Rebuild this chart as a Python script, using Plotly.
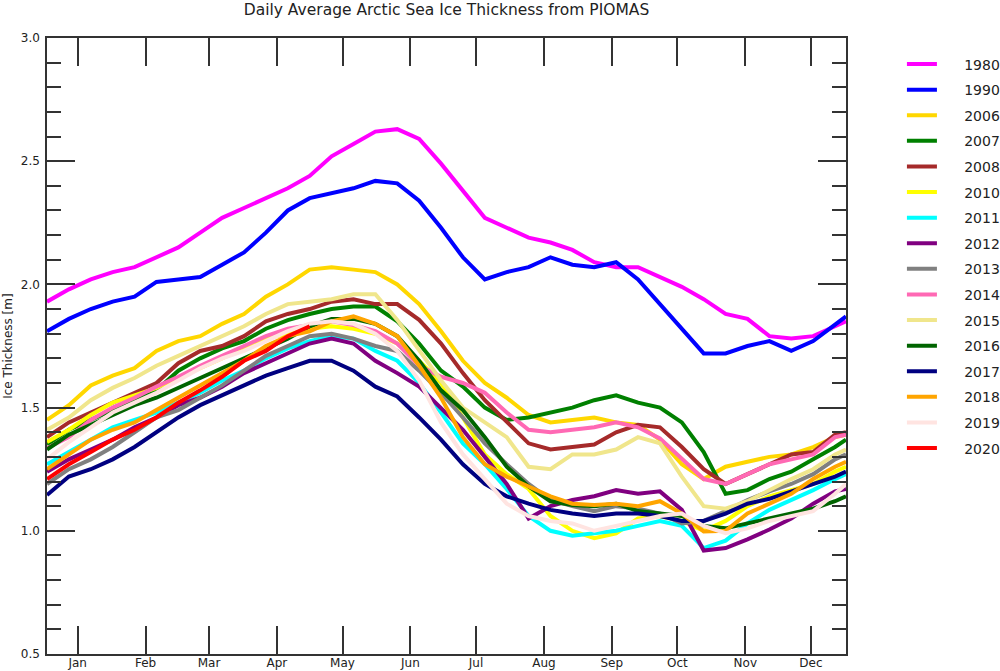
import plotly.graph_objects as go

days = [1, 11, 21, 31, 41, 51, 61, 71, 81, 91, 101, 111, 121, 131, 141, 151, 161, 171, 181,
        191, 201, 211, 221, 231, 241, 251, 261, 271, 281, 291, 301, 311, 321, 331, 341, 351, 361, 366]

y1980 = [1.93, 1.98, 2.02, 2.05, 2.07, 2.11, 2.15, 2.21, 2.27, 2.31, 2.35, 2.39, 2.44, 2.52, 2.57, 2.62, 2.63, 2.59, 2.49,
         2.38, 2.27, 2.23, 2.19, 2.17, 2.14, 2.09, 2.07, 2.07, 2.03, 1.99, 1.94, 1.88, 1.86, 1.79, 1.78, 1.79, 1.83, 1.85]
y1990 = [1.81, 1.86, 1.90, 1.93, 1.95, 2.01, 2.02, 2.03, 2.08, 2.13, 2.21, 2.30, 2.35, 2.37, 2.39, 2.42, 2.41, 2.34, 2.23,
         2.11, 2.02, 2.05, 2.07, 2.11, 2.08, 2.07, 2.09, 2.02, 1.92, 1.82, 1.72, 1.72, 1.75, 1.77, 1.73, 1.77, 1.84, 1.87]
y2006 = [1.45, 1.51, 1.59, 1.63, 1.66, 1.73, 1.77, 1.79, 1.84, 1.88, 1.95, 2.00, 2.06, 2.07, 2.06, 2.05, 2.00, 1.92, 1.81,
         1.69, 1.60, 1.54, 1.47, 1.44, 1.45, 1.46, 1.44, 1.43, 1.37, 1.27, 1.21, 1.26, 1.28, 1.30, 1.31, 1.34, 1.38, 1.39]
y2007 = [1.35, 1.41, 1.45, 1.49, 1.53, 1.57, 1.65, 1.70, 1.74, 1.77, 1.82, 1.855, 1.88, 1.90, 1.91, 1.91, 1.85, 1.76, 1.65,
         1.585, 1.50, 1.45, 1.46, 1.48, 1.50, 1.53, 1.55, 1.52, 1.50, 1.44, 1.32, 1.15, 1.165, 1.21, 1.24, 1.29, 1.34, 1.37]
y2008 = [1.38, 1.44, 1.48, 1.52, 1.56, 1.60, 1.68, 1.73, 1.75, 1.79, 1.85, 1.88, 1.90, 1.93, 1.94, 1.92, 1.92, 1.856, 1.76,
         1.64, 1.53, 1.44, 1.355, 1.33, 1.34, 1.35, 1.40, 1.43, 1.42, 1.34, 1.25, 1.19, 1.23, 1.27, 1.31, 1.32, 1.39, 1.40]
y2010 = [1.36, 1.41, 1.47, 1.52, 1.55, 1.58, 1.62, 1.66, 1.70, 1.74, 1.78, 1.80, 1.82, 1.83, 1.82, 1.80, 1.76, 1.69, 1.60,
         1.46, 1.31, 1.23, 1.17, 1.06, 1.00, 0.97, 0.99, 1.05, 1.06, 1.04, 1.00, 1.04, 1.10, 1.14, 1.165, 1.19, 1.24, 1.26]
y2011 = [1.27, 1.32, 1.37, 1.42, 1.45, 1.48, 1.52, 1.56, 1.61, 1.65, 1.70, 1.74, 1.77, 1.79, 1.78, 1.73, 1.69, 1.60, 1.48,
         1.355, 1.27, 1.17, 1.06, 1.00, 0.98, 0.99, 1.00, 1.02, 1.04, 1.02, 0.93, 0.96, 1.03, 1.085, 1.125, 1.165, 1.21, 1.23]
y2012 = [1.24, 1.29, 1.33, 1.37, 1.42, 1.46, 1.51, 1.54, 1.585, 1.64, 1.68, 1.72, 1.76, 1.78, 1.76, 1.69, 1.64, 1.585, 1.50,
         1.41, 1.30, 1.19, 1.05, 1.10, 1.125, 1.14, 1.165, 1.15, 1.16, 1.085, 0.92, 0.93, 0.965, 1.005, 1.05, 1.11, 1.16, 1.17]
y2013 = [1.19, 1.25, 1.29, 1.34, 1.40, 1.46, 1.49, 1.54, 1.59, 1.65, 1.71, 1.75, 1.79, 1.80, 1.78, 1.75, 1.73, 1.65, 1.56,
         1.46, 1.355, 1.27, 1.19, 1.125, 1.10, 1.08, 1.10, 1.09, 1.07, 1.03, 1.04, 1.08, 1.125, 1.16, 1.19, 1.23, 1.29, 1.31]
y2014 = [1.335, 1.38, 1.45, 1.50, 1.54, 1.585, 1.625, 1.67, 1.71, 1.75, 1.79, 1.82, 1.835, 1.85, 1.835, 1.81, 1.76, 1.67, 1.625,
         1.60, 1.56, 1.48, 1.41, 1.40, 1.41, 1.42, 1.44, 1.42, 1.375, 1.29, 1.21, 1.19, 1.23, 1.27, 1.29, 1.31, 1.38, 1.39]
y2015 = [1.41, 1.46, 1.53, 1.58, 1.62, 1.67, 1.71, 1.75, 1.79, 1.83, 1.88, 1.92, 1.93, 1.94, 1.96, 1.96, 1.856, 1.73, 1.61,
         1.50, 1.44, 1.38, 1.26, 1.25, 1.31, 1.31, 1.33, 1.38, 1.355, 1.22, 1.10, 1.09, 1.12, 1.165, 1.21, 1.25, 1.31, 1.33]
y2016 = [1.33, 1.39, 1.43, 1.47, 1.51, 1.54, 1.58, 1.62, 1.66, 1.70, 1.74, 1.78, 1.83, 1.86, 1.86, 1.84, 1.79, 1.69, 1.57,
         1.49, 1.38, 1.26, 1.18, 1.12, 1.105, 1.10, 1.11, 1.08, 1.07, 1.06, 1.02, 1.01, 1.03, 1.05, 1.07, 1.09, 1.12, 1.14]
y2017 = [1.145, 1.22, 1.25, 1.29, 1.34, 1.40, 1.46, 1.51, 1.55, 1.59, 1.63, 1.66, 1.69, 1.69, 1.65, 1.585, 1.545, 1.46, 1.37,
         1.27, 1.19, 1.14, 1.11, 1.085, 1.07, 1.06, 1.07, 1.07, 1.06, 1.04, 1.04, 1.07, 1.11, 1.13, 1.16, 1.19, 1.22, 1.24]
y2018 = [1.25, 1.31, 1.37, 1.41, 1.44, 1.49, 1.54, 1.59, 1.64, 1.69, 1.75, 1.79, 1.81, 1.85, 1.87, 1.84, 1.79, 1.67, 1.54,
         1.38, 1.27, 1.22, 1.18, 1.14, 1.11, 1.105, 1.11, 1.10, 1.12, 1.07, 0.997, 1.00, 1.07, 1.11, 1.15, 1.21, 1.26, 1.28]
y2019 = [1.29, 1.36, 1.42, 1.48, 1.52, 1.56, 1.61, 1.66, 1.70, 1.73, 1.77, 1.81, 1.84, 1.85, 1.84, 1.80, 1.73, 1.61, 1.44,
         1.31, 1.21, 1.11, 1.06, 1.04, 1.03, 1.00, 1.02, 1.04, 1.06, 1.07, 1.02, 0.99, 1.01, 1.04, 1.06, 1.08, 1.15, 1.19]
y2020 = [1.21, 1.27, 1.32, 1.37, 1.41, 1.46, 1.52, 1.57, 1.625, 1.69, 1.73, 1.79, 1.83]

years = ["1980", "1990", "2006", "2007", "2008", "2010", "2011", "2012",
         "2013", "2014", "2015", "2016", "2017", "2018", "2019", "2020"]
series = [y1980, y1990, y2006, y2007, y2008, y2010, y2011, y2012,
          y2013, y2014, y2015, y2016, y2017, y2018, y2019, y2020]
colors = ["#FF00FF", "#0000FF", "#FFD700", "#008000", "#A52A2A", "#FFFF00", "#00FFFF", "#800080",
          "#808080", "#FF69B4", "#F0E68C", "#006400", "#000080", "#FFA500", "#FFE4E1", "#FF0000"]

month_days = [15, 46, 75, 106, 136, 167, 197, 228, 259, 289, 320, 350]
month_labels = ["Jan", "Feb", "Mar", "Apr", "May", "Jun", "Jul", "Aug", "Sep", "Oct", "Nov", "Dec"]

FONT = "DejaVu Sans"
PAD = "\u00a0" * 5
fig = go.Figure()
for name, vals, col in zip(years, series, colors):
    fig.add_trace(go.Scatter(
        x=days[:len(vals)], y=vals, mode="lines", name=PAD + name, legendgroup=name,
        line=dict(color=col, width=4), hoverinfo="skip"))

axis_col = "#333333"
fig.update_layout(
    width=1000, height=671,
    margin=dict(l=47, r=154, t=38, b=17, autoexpand=False),
    paper_bgcolor="white", plot_bgcolor="white",
    font=dict(family=FONT, size=12, color="#222222"),
    title=dict(text="Daily Average Arctic Sea Ice Thickness from PIOMAS",
               x=0.5, xref="paper", xanchor="center", y=0.994, yref="container", yanchor="top",
               font=dict(family=FONT, size=15.5, color="#222222")),
    showlegend=True,
    legend=dict(x=1.07, y=0.983, xanchor="left", yanchor="top", font=dict(family=FONT, size=14, color="#222222"),
                tracegroupgap=4.4, itemwidth=30, bgcolor="rgba(0,0,0,0)"),
    xaxis=dict(range=[1, 366], tickmode="array", tickvals=month_days, ticktext=month_labels,
               ticks="inside", ticklen=28, tickwidth=1.5, tickcolor=axis_col, automargin=False,
               ticklabelstandoff=-3,
               showline=True, linecolor=axis_col, linewidth=1.5, mirror="ticks",
               showgrid=False, zeroline=False, tickfont=dict(size=12)),
    yaxis=dict(range=[0.5, 3.0], tickmode="array", tickvals=[0.5, 1.0, 1.5, 2.0, 2.5, 3.0],
               ticktext=["0.5", "1.0", "1.5", "2.0", "2.5", "3.0"], automargin=False,
               ticklabelstandoff=3,
               ticks="inside", ticklen=28, tickwidth=1.5, tickcolor=axis_col,
               minor=dict(dtick=0.1, ticks="inside", ticklen=14, tickwidth=1.5, tickcolor=axis_col, showgrid=False),
               showline=True, linecolor=axis_col, linewidth=1.5, mirror="ticks",
               showgrid=False, zeroline=False, tickfont=dict(size=12)),
    annotations=[dict(text="Ice Thickness [m]", xref="paper", yref="paper", x=-0.049, y=0.5,
                      xanchor="center", yanchor="middle", textangle=-90, showarrow=False,
                      font=dict(family=FONT, size=12, color="#222222"))],
)

fig.write_html("out.html", config={"displayModeBar": False},
               post_script="document.body.style.margin='0px';document.body.style.overflow='hidden';")
